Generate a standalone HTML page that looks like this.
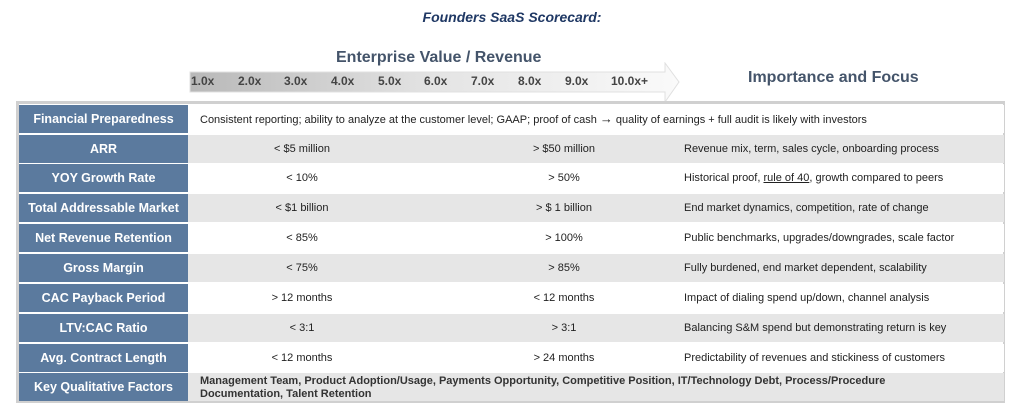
<!DOCTYPE html>
<html><head><meta charset="utf-8"><style>
body{margin:0;width:1024px;height:418px;background:#fff;position:relative;overflow:hidden;font-family:"Liberation Sans",Arial,sans-serif}
.a{position:absolute;white-space:nowrap}
.row{position:absolute;left:19px;width:985px;height:28px}
.lab{position:absolute;left:0;top:0;width:169px;height:28px;background:#5b7a9e;color:#fff;font-weight:bold;font-size:12.5px;line-height:28px;text-align:center}
.c2,.c3{position:absolute;top:0;line-height:28px;font-size:11px;color:#222;text-align:center;width:200px}
.c2{left:183px}.c3{left:445px}
.c4{position:absolute;left:665px;top:0;line-height:28px;font-size:11px;color:#222}
</style></head><body>
<div class="a" style="left:0;width:1024px;top:9px;text-align:center;font-size:14px;font-weight:bold;font-style:italic;color:#1f3864">Founders SaaS Scorecard:</div>
<div class="a" style="left:336px;top:49px;font-size:16px;font-weight:bold;color:#44546a">Enterprise Value / Revenue</div>
<svg class="a" style="left:188px;top:62px" width="500" height="44">
<defs><linearGradient id="g" x1="0" x2="1"><stop offset="0" stop-color="#b8b8b8"/><stop offset="0.5" stop-color="#e4e4e4"/><stop offset="1" stop-color="#fafafa"/></linearGradient></defs>
<polygon points="2,10 477,10 477,1 491,20 477,40 477,30 2,30" fill="url(#g)" stroke="#e0e0e0" stroke-width="1"/>
</svg>
<div class="a" style="left:191px;top:74px;width:480px;height:18px;font-size:12px;font-weight:bold;color:#444">
<span class="a" style="left:0">1.0x</span><span class="a" style="left:47px">2.0x</span><span class="a" style="left:93px">3.0x</span><span class="a" style="left:140px">4.0x</span><span class="a" style="left:187px">5.0x</span><span class="a" style="left:233px">6.0x</span><span class="a" style="left:280px">7.0x</span><span class="a" style="left:327px">8.0x</span><span class="a" style="left:374px">9.0x</span><span class="a" style="left:420px">10.0x+</span></div>
<div class="a" style="left:748px;top:69px;font-size:16px;font-weight:bold;color:#44546a">Importance and Focus</div>
<div class="a" style="left:16px;top:101px;width:989px;height:302px;background:#d0d0d0"></div>
<div class="a" style="left:19px;top:104px;width:984px;height:297px;background:#fff"></div>

<div class="row" style="top:105px;background:#fff"><div class="lab">Financial Preparedness</div><div class="c4" style="left:181px">Consistent reporting; ability to analyze at the customer level; GAAP; proof of cash <span style="font-size:13px">→</span> quality of earnings + full audit is likely with investors</div></div>
<div class="row" style="top:135px;background:#e6e6e6"><div class="lab">ARR</div><div class="c2">&lt; $5 million</div><div class="c3">&gt; $50 million</div><div class="c4">Revenue mix, term, sales cycle, onboarding process</div></div>
<div class="row" style="top:164px;background:#fff"><div class="lab">YOY Growth Rate</div><div class="c2">&lt; 10%</div><div class="c3">&gt; 50%</div><div class="c4">Historical proof, <u>rule of 40</u>, growth compared to peers</div></div>
<div class="row" style="top:194px;background:#e6e6e6"><div class="lab">Total Addressable Market</div><div class="c2">&lt; $1 billion</div><div class="c3">&gt; $ 1 billion</div><div class="c4">End market dynamics, competition, rate of change</div></div>
<div class="row" style="top:224px;background:#fff"><div class="lab">Net Revenue Retention</div><div class="c2">&lt; 85%</div><div class="c3">&gt; 100%</div><div class="c4">Public benchmarks, upgrades/downgrades, scale factor</div></div>
<div class="row" style="top:254px;background:#e6e6e6"><div class="lab">Gross Margin</div><div class="c2">&lt; 75%</div><div class="c3">&gt; 85%</div><div class="c4">Fully burdened, end market dependent, scalability</div></div>
<div class="row" style="top:284px;background:#fff"><div class="lab">CAC Payback Period</div><div class="c2">&gt; 12 months</div><div class="c3">&lt; 12 months</div><div class="c4">Impact of dialing spend up/down, channel analysis</div></div>
<div class="row" style="top:314px;background:#e6e6e6"><div class="lab">LTV:CAC Ratio</div><div class="c2">&lt; 3:1</div><div class="c3">&gt; 3:1</div><div class="c4">Balancing S&amp;M spend but demonstrating return is key</div></div>
<div class="row" style="top:344px;background:#fff"><div class="lab">Avg. Contract Length</div><div class="c2">&lt; 12 months</div><div class="c3">&gt; 24 months</div><div class="c4">Predictability of revenues and stickiness of customers</div></div>
<div class="row" style="top:373px;background:#e6e6e6"><div class="lab">Key Qualitative Factors</div><div class="a" style="left:181px;top:2px;font-size:11px;font-weight:bold;color:#333;line-height:13px;white-space:normal;width:730px">Management Team, Product Adoption/Usage, Payments Opportunity, Competitive Position, IT/Technology Debt, Process/Procedure Documentation, Talent Retention</div></div>
</body></html>
